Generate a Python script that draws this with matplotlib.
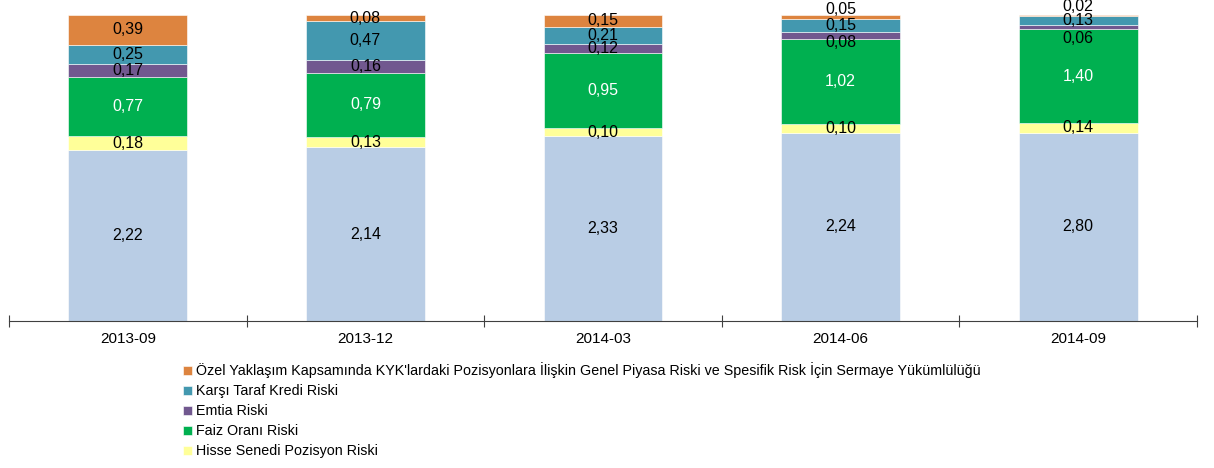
import numpy as np
import matplotlib
matplotlib.use("Agg")
import matplotlib.pyplot as plt

plt.rcParams['font.family'] = ['Liberation Sans', 'DejaVu Sans']

donemler = ["2013-09", "2013-12", "2014-03", "2014-06", "2014-09"]

# alttan uste seriler
kur = [2.22, 2.14, 2.33, 2.24, 2.80]
hisse = [0.18, 0.13, 0.10, 0.10, 0.14]
faiz = [0.77, 0.79, 0.95, 1.02, 1.40]
emtia = [0.17, 0.16, 0.12, 0.08, 0.06]
karsi = [0.25, 0.47, 0.21, 0.15, 0.13]
ozel = [0.39, 0.08, 0.15, 0.05, 0.02]

seriler = [
    ("Kur Riski", kur, "#B9CDE5", "black"),
    ("Hisse Senedi Pozisyon Riski", hisse, "#FFFF99", "black"),
    ("Faiz Oranı Riski", faiz, "#00B050", "white"),
    ("Emtia Riski", emtia, "#71588F", "black"),
    ("Karşı Taraf Kredi Riski", karsi, "#4398AF", "black"),
    ("Özel Yaklaşım Kapsamında KYK'lardaki Pozisyonlara İlişkin Genel Piyasa Riski ve Spesifik Risk İçin Sermaye Yükümlülüğü",
     ozel, "#DD843F", "black"),
]

# etiket kaydirmalari (piksel), ust uste binmeyi onlemek icin
kaydir = {(3, 5): 8, (3, 3): -7, (4, 5): 9, (4, 3): -11}

fig = plt.figure(figsize=(12.14, 4.68), dpi=100)
ax = fig.add_axes([9 / 1214, 1 - 321 / 468, 1188 / 1214, 306 / 468])

x = np.arange(len(donemler))
toplam = np.sum([s[1] for s in seriler], axis=0)
alt = np.zeros(len(donemler))
cubuklar = []
for j, (ad, deger, renk, yazi_renk) in enumerate(seriler):
    oran = np.array(deger) / toplam
    b = ax.bar(x, oran, 0.5, bottom=alt, color=renk, edgecolor="white", linewidth=0.4, label=ad)
    cubuklar.append(b)
    for i in range(len(donemler)):
        ax.annotate(f"{deger[i]:.2f}".replace(".", ","), (x[i], alt[i] + oran[i] / 2),
                    xytext=(0, kaydir.get((i, j), 0)), textcoords="offset pixels",
                    ha="center", va="center", fontsize=11.5, color=yazi_renk)
    alt += oran

ax.set_xlim(-0.5, len(donemler) - 0.5)
ax.set_ylim(0, 1)
ax.set_yticks([])
for s in ["top", "right", "left"]:
    ax.spines[s].set_visible(False)
ax.spines["bottom"].set_color("#404040")
ax.set_xticks(np.arange(-0.5, len(donemler)), minor=False)
ax.set_xticklabels([])
ax.tick_params(axis="x", direction="inout", length=8, color="#404040")
for i, d in enumerate(donemler):
    ax.text(x[i], -0.058, d, ha="center", va="center", fontsize=11)

h = [cubuklar[k] for k in [5, 4, 3, 2, 1]]
l = [seriler[k][0] for k in [5, 4, 3, 2, 1]]
fig.legend(h, l, loc="upper left", bbox_to_anchor=(176 / 1214, 1 - 355 / 468), frameon=False,
           fontsize=10.3, handlelength=0.6, handleheight=0.6, handletextpad=0.3,
           labelspacing=0.42, borderpad=0)

fig.savefig("out.png", dpi=100)
